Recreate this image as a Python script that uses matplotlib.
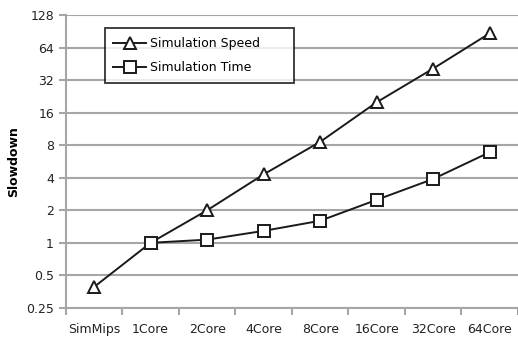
import numpy as np
import matplotlib.pyplot as plt

categories = ['SimMips', '1Core', '2Core', '4Core', '8Core', '16Core', '32Core', '64Core']
sim_speed = [0.39, 1.0, 2.0, 4.3, 8.6, 20.0, 41.0, 87.0]
sim_time = [np.nan, 1.0, 1.07, 1.29, 1.6, 2.5, 3.9, 6.9]
y_ticks = [0.25, 0.5, 1, 2, 4, 8, 16, 32, 64, 128]
y_labels = ['0.25', '0.5', '1', '2', '4', '8', '16', '32', '64', '128']

plt.rcParams['font.family'] = ['DejaVu Sans']

fig = plt.figure(figsize=(5.18, 3.44), dpi=100)
ax = fig.add_axes([0.127, 0.105, 0.873, 0.851])

x = np.arange(len(categories))
ax.plot(x, sim_speed, color='#1a1a1a', lw=1.4, marker='^', ms=9,
        mfc='white', mec='#1a1a1a', mew=1.4, label='Simulation Speed', zorder=3)
ax.plot(x, sim_time, color='#1a1a1a', lw=1.4, marker='s', ms=8,
        mfc='white', mec='#1a1a1a', mew=1.4, label='Simulation Time', zorder=3)

ax.set_yscale('log', base=2)
ax.set_ylim(0.25, 128)
ax.set_yticks(y_ticks)
ax.set_yticklabels(y_labels)
ax.minorticks_off()
ax.yaxis.grid(True, color='#a6a6a6', lw=1.5)
ax.set_axisbelow(True)

ax.set_xlim(-0.5, 7.43)
ax.set_xticks(np.arange(len(categories) + 1) - 0.5)
ax.set_xticklabels([])
ax.set_xticks(x, minor=True)
ax.set_xticklabels(categories, minor=True)
ax.tick_params(axis='x', which='major', direction='out', length=5, color='#a6a6a6', width=1.5)
ax.tick_params(axis='x', which='minor', length=0, pad=11, labelsize=9, labelcolor='#222222')
ax.tick_params(axis='y', direction='out', length=5, color='#a6a6a6', width=1.5,
               labelsize=9, labelcolor='#222222')

for s in ['top', 'right']:
    ax.spines[s].set_visible(False)
ax.spines['left'].set_color('#a6a6a6')
ax.spines['left'].set_linewidth(1.5)
ax.spines['bottom'].set_color('#a6a6a6')
ax.spines['bottom'].set_linewidth(1.5)

ax.set_ylabel('Slowdown', fontsize=9, fontweight='bold', labelpad=4)

# legend box stretched to the reference width
leg = ax.legend(loc='upper left', bbox_to_anchor=(0.086, 0.955, 0.418, 0.0), mode='expand',
                fancybox=False, edgecolor='black', fontsize=9, handlelength=2.6,
                borderpad=0.7, labelspacing=0.9, handletextpad=0.3, borderaxespad=0)
leg.get_frame().set_linewidth(1.3)

fig.savefig('out.png', dpi=100)
